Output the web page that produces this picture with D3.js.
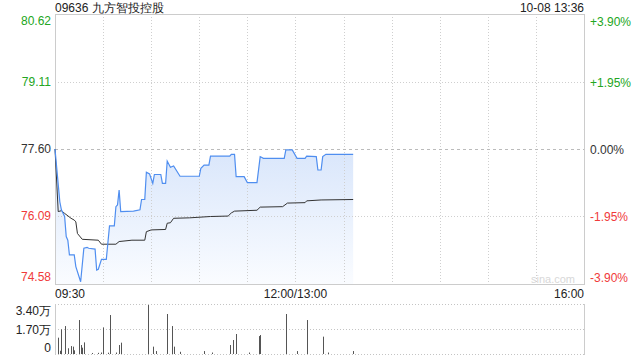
<!DOCTYPE html>
<html>
<head>
<meta charset="utf-8">
<script src="https://cdn.jsdelivr.net/npm/d3@7"></script>
<style>
  body { margin: 0; background: #fff; }
  svg { display: block; font-family: "Liberation Sans", Arial, sans-serif; }
</style>
</head>
<body>
<svg id="chart" width="640" height="360"></svg>
<script>
// minutes since 09:30 (lunch break removed), prices in HKD
const priceMinutes = [0, 3, 4, 6, 7, 8, 9, 12, 13, 16, 18, 20, 21, 25, 26, 27, 29, 32, 34, 37, 38, 39, 40, 41, 49, 53, 54, 56, 57, 59, 61, 62, 66, 67, 69, 70, 72, 74, 78, 90, 91, 93, 96, 97, 109, 110, 112, 113, 118, 120, 126, 128, 130, 143, 144, 148, 151, 156, 157, 163, 164, 166, 167, 169, 186]
const priceValues = [77.60, 76.42, 76.24, 76.09, 75.64, 75.56, 75.23, 75.23, 74.97, 74.63, 75.38, 75.40, 75.38, 75.36, 74.89, 74.91, 75.13, 75.13, 75.88, 75.88, 76.31, 76.35, 76.68, 76.20, 76.21, 76.24, 76.47, 76.47, 77.08, 77.04, 76.83, 77.03, 77.03, 76.83, 76.83, 77.33, 77.19, 77.22, 76.99, 76.99, 77.17, 77.24, 77.24, 77.44, 77.44, 77.48, 77.48, 76.98, 76.98, 76.85, 76.85, 77.43, 77.39, 77.39, 77.58, 77.58, 77.39, 77.39, 77.44, 77.43, 77.13, 77.13, 77.43, 77.48, 77.48]

const avgMinutes = [0, 2, 4, 6, 10, 12, 13, 14, 17, 27, 29, 38, 40, 48, 56, 57, 60, 69, 70, 72, 74, 84, 97, 108, 110, 112, 126, 128, 142, 145, 156, 157, 166, 186]
const avgValues = [77.60, 76.20, 76.22, 76.16, 76.05, 76.01, 75.97, 75.71, 75.58, 75.56, 75.47, 75.47, 75.53, 75.56, 75.56, 75.75, 75.79, 75.80, 75.94, 75.95, 76.05, 76.06, 76.09, 76.10, 76.17, 76.21, 76.23, 76.30, 76.31, 76.39, 76.40, 76.44, 76.46, 76.47]

// volume per minute (shares)
const volMinutes = [2, 3, 4, 6, 8, 10, 11, 12, 15, 16, 17, 18, 23, 27, 29, 30, 33, 34, 38, 40, 41, 58, 61, 63, 70, 73, 74, 78, 93, 98, 109, 111, 113, 121, 127, 128, 144, 151, 157, 167, 170, 186]
const volValues = [11100, 2200, 16800, 19000, 3900, 5400, 5000, 2500, 23100, 6100, 4300, 7900, 700, 800, 1000, 18100, 900, 26500, 1000, 6100, 7700, 33300, 5000, 2000, 27200, 19000, 5000, 1500, 2000, 1000, 6100, 9500, 13600, 1000, 12200, 12900, 27200, 2000, 23100, 11800, 1000, 2000]

const priceTicks = [80.62, 79.11, 77.60, 76.09, 74.58]
const pctTicks = ["+3.90%", "+1.95%", "0.00%", "-1.95%", "-3.90%"]
const volTicks = [34000, 17000, 0]
const volTickLabels = ["3.40万", "1.70万", "0"]
const timeTicks = [0, 150, 330]
const timeLabels = ["09:30", "12:00/13:00", "16:00"]
const prevClose = 77.60

const svg = d3.select("#chart")
const left = 55, right = 584
const green = "#22a622", red = "#f03a3a", grid = "#cfcfcf"

const x = d3.scaleLinear().domain([0, 330]).range([left, right])
const y = d3.scaleLinear().domain([74.58, 80.62]).range([284, 14])
const yv = d3.scaleLinear().domain([0, 34000]).range([354, 304])

function tickColor(p) {
  if (p > prevClose) return green
  if (p < prevClose) return red
  return "#333"
}

// header
svg.append("text").attr("x", left).attr("y", 12).attr("font-size", 12).attr("fill", "#222")
  .text("09636 九方智投控股")
svg.append("text").attr("x", right).attr("y", 12).attr("font-size", 12).attr("fill", "#222")
  .attr("text-anchor", "end").text("10-08 13:36")

// area fill under price line
const defs = svg.append("defs")
const grad = defs.append("linearGradient").attr("id", "fill").attr("x1", 0).attr("y1", 0).attr("x2", 0).attr("y2", 1)
grad.append("stop").attr("offset", "0%").attr("stop-color", "#d9e6fb")
grad.append("stop").attr("offset", "100%").attr("stop-color", "#fafcff")

const pricePts = priceMinutes.map((m, i) => [m, priceValues[i]])
const avgPts = avgMinutes.map((m, i) => [m, avgValues[i]])

svg.append("path")
  .datum(pricePts)
  .attr("fill", "url(#fill)")
  .attr("d", d3.area().x(d => x(d[0])).y0(284).y1(d => y(d[1])))

// grid: vertical every 30 minutes
const vGrid = d3.range(30, 330, 30)
svg.append("g").selectAll("line").data(vGrid).enter().append("line")
  .attr("x1", d => Math.round(x(d)) + 0.5).attr("x2", d => Math.round(x(d)) + 0.5)
  .attr("y1", 14).attr("y2", 284)
  .attr("stroke", grid).attr("stroke-dasharray", "1,2")

svg.append("g").selectAll("line").data([79.11, 76.09]).enter().append("line")
  .attr("x1", left).attr("x2", right)
  .attr("y1", d => Math.round(y(d)) + 0.5).attr("y2", d => Math.round(y(d)) + 0.5)
  .attr("stroke", grid).attr("stroke-dasharray", "1,2")

svg.append("line")
  .attr("x1", left).attr("x2", right)
  .attr("y1", Math.round(y(prevClose)) + 0.5).attr("y2", Math.round(y(prevClose)) + 0.5)
  .attr("stroke", "#bbb").attr("stroke-dasharray", "3,3")

// price panel border
svg.append("rect").attr("x", left + 0.5).attr("y", 14.5).attr("width", right - left).attr("height", 270)
  .attr("fill", "none").attr("stroke", "#cccccc")

// watermark
svg.append("text").attr("x", 553).attr("y", 283).attr("font-size", 11).attr("fill", "#d8d8d8")
  .attr("text-anchor", "middle").text("sina.com")

// lines
svg.append("path").datum(avgPts)
  .attr("fill", "none").attr("stroke", "#333").attr("stroke-width", 1)
  .attr("d", d3.line().x(d => x(d[0])).y(d => y(d[1])))

svg.append("path").datum(pricePts)
  .attr("fill", "none").attr("stroke", "#4f8ef0").attr("stroke-width", 1.2)
  .attr("d", d3.line().x(d => x(d[0])).y(d => y(d[1])))

// left price labels
const labelY = [21, 82, 149, 216, 277]
svg.append("g").selectAll("text").data(priceTicks).enter().append("text")
  .attr("x", 51).attr("y", (d, i) => labelY[i]).attr("dy", "0.35em")
  .attr("text-anchor", "end").attr("font-size", 12)
  .attr("fill", d => tickColor(d))
  .text(d => d.toFixed(2))

// right percent labels
svg.append("g").selectAll("text").data(pctTicks).enter().append("text")
  .attr("x", 590).attr("y", (d, i) => labelY[i] + 1).attr("dy", "0.35em")
  .attr("font-size", 12)
  .attr("fill", (d, i) => tickColor(priceTicks[i]))
  .text(d => d)

// time labels
svg.append("g").selectAll("text").data(timeTicks).enter().append("text")
  .attr("x", d => x(d)).attr("y", 298)
  .attr("text-anchor", (d, i) => i === 0 ? "start" : (i === 2 ? "end" : "middle"))
  .attr("font-size", 12).attr("fill", "#222")
  .text((d, i) => timeLabels[i])

// volume panel
svg.append("g").selectAll("line").data(volTicks).enter().append("line")
  .attr("x1", left).attr("x2", right)
  .attr("y1", d => Math.round(yv(d)) + 0.5).attr("y2", d => Math.round(yv(d)) + 0.5)
  .attr("stroke", "#c4c4c4").attr("stroke-dasharray", "1,2")
svg.append("line").attr("x1", left + 0.5).attr("x2", left + 0.5).attr("y1", 304).attr("y2", 355).attr("stroke", "#cccccc")
svg.append("line").attr("x1", right + 0.5).attr("x2", right + 0.5).attr("y1", 304).attr("y2", 355).attr("stroke", "#cccccc")

svg.append("g").selectAll("rect").data(volMinutes).enter().append("rect")
  .attr("x", d => Math.round(x(d)))
  .attr("y", (d, i) => yv(volValues[i]))
  .attr("width", 1)
  .attr("height", (d, i) => 354 - yv(volValues[i]))
  .attr("fill", "#555")

const volLabelY = [311, 330, 348]
svg.append("g").selectAll("text").data(volTickLabels).enter().append("text")
  .attr("x", 51).attr("y", (d, i) => volLabelY[i]).attr("dy", "0.35em")
  .attr("text-anchor", "end").attr("font-size", 12).attr("fill", "#222")
  .text(d => d)
</script>
</body>
</html>
